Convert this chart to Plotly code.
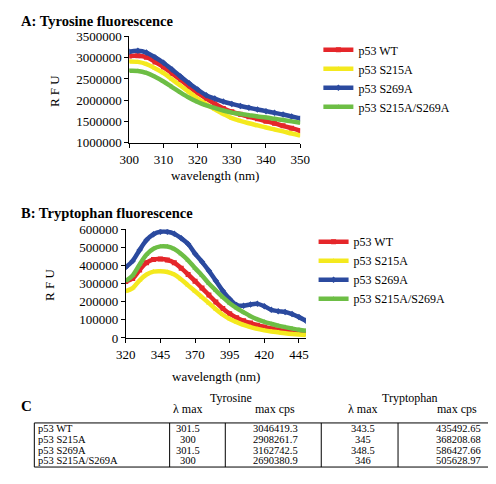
import plotly.graph_objects as go

# ---------------- data ----------------
series_names = ["p53 WT", "p53 S215A", "p53 S269A", "p53 S215A/S269A"]
series_colors = ["#E5262A", "#F4E91E", "#2B4A9F", "#6DBE45"]
series_symbols = ["square", "triangle-up", "diamond", "triangle-up"]

# Panel A: Tyrosine fluorescence
wl_tyr = [300, 302.5, 305, 307.5, 310, 312.5, 315, 317.5, 320, 322.5, 325,
          327.5, 330, 332.5, 335, 337.5, 340, 342.5, 345, 347.5, 350]
tyr_wt = [3040000, 3045000, 3010000, 2900000, 2780000, 2630000, 2480000, 2320000,
          2170000, 2040000, 1920000, 1810000, 1730000, 1670000, 1615000, 1565000,
          1510000, 1460000, 1400000, 1345000, 1285000]
tyr_s215a = [2910000, 2900000, 2850000, 2750000, 2640000, 2490000, 2340000, 2190000,
             2040000, 1910000, 1790000, 1680000, 1580000, 1515000, 1460000, 1410000,
             1360000, 1315000, 1270000, 1220000, 1175000]
tyr_s269a = [3140000, 3160000, 3120000, 3010000, 2880000, 2720000, 2560000, 2400000,
             2250000, 2120000, 2040000, 1970000, 1915000, 1865000, 1825000, 1785000,
             1745000, 1705000, 1665000, 1620000, 1575000]
tyr_double = [2690000, 2685000, 2640000, 2550000, 2440000, 2310000, 2180000, 2060000,
              1960000, 1880000, 1820000, 1760000, 1710000, 1680000, 1650000, 1620000,
              1595000, 1565000, 1535000, 1505000, 1475000]

# Panel B: Tryptophan fluorescence
wl_trp = [320, 325, 330, 335, 340, 345, 350, 355, 360, 365, 370, 375, 380, 385,
          390, 395, 400, 405, 410, 415, 420, 425, 430, 435, 440, 445, 450]
trp_wt = [312000, 328000, 375000, 415000, 433000, 435000, 430000, 415000, 385000,
          350000, 313000, 275000, 237000, 198000, 163000, 134000, 112000, 95000,
          82000, 70000, 60000, 51000, 44000, 38000, 33000, 29000, 26000]
trp_s215a = [258000, 275000, 318000, 350000, 366000, 368000, 364000, 350000, 322000,
             290000, 258000, 225000, 192000, 158000, 128000, 105000, 87000, 72000,
             60000, 50000, 42000, 36000, 31000, 26000, 22000, 19000, 17000]
trp_s269a = [390000, 425000, 485000, 540000, 572000, 586000, 586000, 575000, 550000,
             518000, 465000, 420000, 370000, 315000, 260000, 215000, 182000, 178000,
             185000, 188000, 175000, 155000, 148000, 143000, 132000, 115000, 95000]
trp_double = [315000, 345000, 405000, 460000, 492000, 505000, 504000, 490000, 463000,
              428000, 385000, 345000, 300000, 262000, 225000, 192000, 165000, 142000,
              120000, 103000, 89000, 78000, 68000, 60000, 52000, 45000, 40000]

tyr_ticks = [300, 310, 320, 330, 340, 350]
trp_ticks = [320, 345, 370, 395, 420, 445]

# Panel C: table
table_rows = ["p53 WT", "p53 S215A", "p53 S269A", "p53 S215A/S269A"]
tyr_lmax = ["301.5", "300", "301.5", "300"]
tyr_maxcps = ["3046419.3", "2908261.7", "3162742.5", "2690380.9"]
trp_lmax = ["343.5", "345", "348.5", "346"]
trp_maxcps = ["435492.65", "368208.68", "586427.66", "505628.97"]

# ---------------- figure ----------------
W, H = 496, 484
def px(x):
    return x / W
def py(y):
    return 1 - y / H

FONT = "Liberation Serif, Times New Roman, serif"
fig = go.Figure()

tyr_data = [tyr_wt, tyr_s215a, tyr_s269a, tyr_double]
trp_data = [trp_wt, trp_s215a, trp_s269a, trp_double]

for i, name in enumerate(series_names):
    fig.add_trace(go.Scatter(
        x=wl_tyr, y=tyr_data[i], name=name, mode="lines+markers",
        line=dict(color=series_colors[i], width=4.5, shape="spline"),
        marker=dict(symbol=series_symbols[i], size=5, color=series_colors[i]),
        xaxis="x", yaxis="y", legend="legend"))
for i, name in enumerate(series_names):
    fig.add_trace(go.Scatter(
        x=wl_trp, y=trp_data[i], name=name, mode="lines+markers",
        line=dict(color=series_colors[i], width=4.5, shape="spline"),
        marker=dict(symbol=series_symbols[i], size=5, color=series_colors[i]),
        xaxis="x2", yaxis="y2", legend="legend2"))

axis_common = dict(showline=True, linecolor="black", linewidth=1, ticks="outside",
                   ticklen=4, tickcolor="black", tickwidth=1, showgrid=False,
                   zeroline=False, tickfont=dict(family=FONT, size=13, color="black"))

fig.update_layout(
    width=W, height=H, margin=dict(l=0, r=0, t=0, b=0),
    paper_bgcolor="white", plot_bgcolor="white",
    font=dict(family=FONT, color="black"),
    xaxis=dict(domain=[px(116), px(294)], range=[300, 350], tickvals=tyr_ticks,
               anchor="y", **axis_common),
    yaxis=dict(domain=[py(132), py(22)], range=[1000000, 3500000], dtick=500000,
               tickformat="d", anchor="x", **axis_common),
    xaxis2=dict(domain=[px(112.3), px(300)], range=[320, 450], tickvals=trp_ticks,
                anchor="y2", **axis_common),
    yaxis2=dict(domain=[py(333.3), py(221)], range=[0, 600000], dtick=100000,
                tickformat="d", anchor="x2", **axis_common),
    legend=dict(x=px(313), y=py(21), xanchor="left", yanchor="top",
                font=dict(family=FONT, size=12, color="black"),
                bgcolor="rgba(0,0,0,0)", tracegroupgap=0),
    legend2=dict(x=px(308), y=py(219), xanchor="left", yanchor="top",
                 font=dict(family=FONT, size=12, color="black"),
                 bgcolor="rgba(0,0,0,0)", tracegroupgap=0),
    showlegend=True,
)

ann = []
def text(x, y, s, size=12, xanchor="center", bold=False, angle=0):
    ann.append(dict(x=px(x), y=py(y), xref="paper", yref="paper", text=(f"<b>{s}</b>" if bold else s),
                    showarrow=False, xanchor=xanchor, yanchor="middle", textangle=angle,
                    borderpad=0, font=dict(family=FONT, size=size, color="black")))

# panel titles
text(2, 6, "A: Tyrosine fluorescence", size=14.5, xanchor="left", bold=True)
text(2, 204, "B: Tryptophan fluorescence", size=14.5, xanchor="left", bold=True)
text(2, 404, "C", size=15, xanchor="left", bold=True)
# axis titles
text(38, 78, "R F U", size=13, angle=-90)
text(205, 166, "wavelength (nm)", size=13)
text(33, 279, "R F U", size=13, angle=-90)
text(206, 373, "wavelength (nm)", size=13)

# table headers
TS = 10.5
text(222, 395, "Tyrosine", size=12)
text(408, 395, "Tryptophan", size=12)
text(177, 407, "λ max", size=12)
text(268, 407, "max cps", size=12)
text(359, 407, "λ max", size=12)
text(457, 407, "max cps", size=12)
row_y = [427, 438, 449, 460]
for i, r in enumerate(table_rows):
    text(20, row_y[i], r, size=TS, xanchor="left")
    text(177, row_y[i], tyr_lmax[i], size=TS)
    text(268, row_y[i], tyr_maxcps[i], size=TS)
    text(359, row_y[i], trp_lmax[i], size=TS)
    text(459, row_y[i], trp_maxcps[i], size=TS)

fig.update_layout(annotations=ann)

shapes = [dict(type="rect", xref="paper", yref="paper", x0=px(17), x1=px(493),
               y0=py(466.5), y1=py(421), line=dict(color="black", width=1))]
for xv in [158, 216, 316, 396]:
    shapes.append(dict(type="line", xref="paper", yref="paper", x0=px(xv), x1=px(xv),
                       y0=py(466.5), y1=py(421), line=dict(color="black", width=1)))
fig.update_layout(shapes=shapes)

fig.write_html("out.html")
